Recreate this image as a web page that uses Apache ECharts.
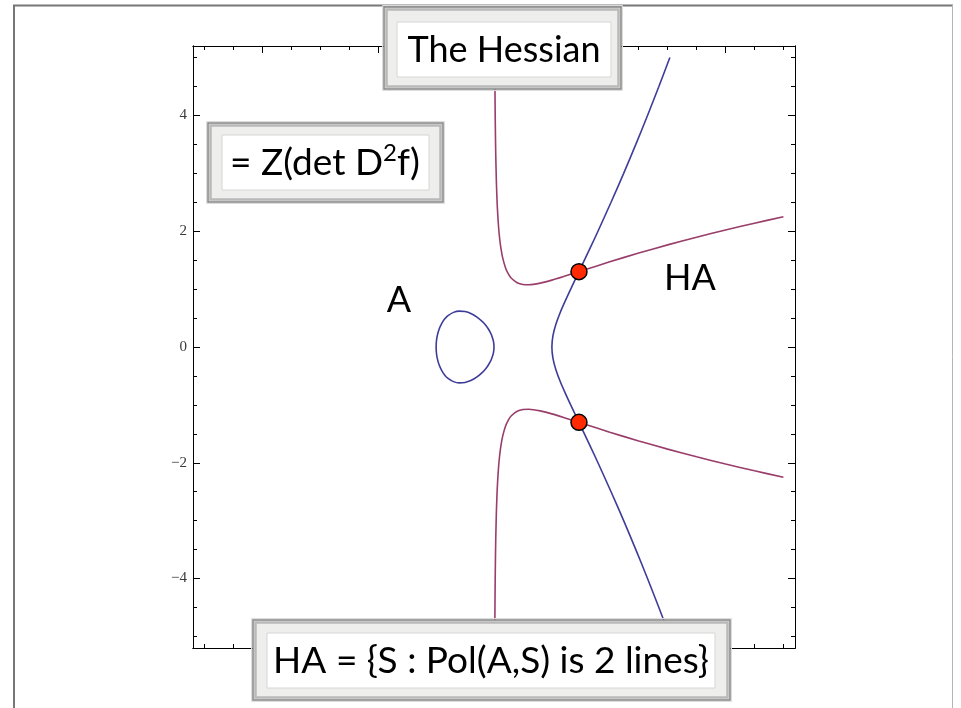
<!DOCTYPE html>
<html>
<head>
<meta charset="utf-8">
<script src="https://cdn.jsdelivr.net/npm/echarts@6/dist/echarts.min.js"></script>
<style>html,body{margin:0;padding:0;background:#fff}#c{width:961px;height:708px}</style>
</head>
<body>
<div id="c"></div>
<script>
// ---- data ----
const majorTicks = [-4, -2, 0, 2, 4];
const minorTicks = [-5, -4.5, -4, -3.5, -3, -2.5, -2, -1.5, -1, -0.5, 0, 0.5, 1, 1.5, 2, 2.5, 3, 3.5, 4, 4.5, 5];
const yTickLabels = [-4, -2, 0, 2, 4];

// curve A: closed oval
const curveAOval = [
  [-1, 0], [-0.995, 0.1], [-0.98, 0.197], [-0.95, 0.304], [-0.9, 0.414], [-0.85, 0.486], [-0.8, 0.537],
  [-0.7, 0.598], [-0.6, 0.620], [-0.5, 0.612], [-0.4, 0.580], [-0.3, 0.522], [-0.2, 0.438], [-0.15, 0.383],
  [-0.1, 0.315], [-0.06, 0.245], [-0.04, 0.2], [-0.01, 0.1], [0, 0],
  [-0.01, -0.1], [-0.04, -0.2], [-0.06, -0.245], [-0.1, -0.315], [-0.15, -0.383], [-0.2, -0.438],
  [-0.3, -0.522], [-0.4, -0.580], [-0.5, -0.612], [-0.6, -0.620], [-0.7, -0.598], [-0.8, -0.537],
  [-0.85, -0.486], [-0.9, -0.414], [-0.95, -0.304], [-0.98, -0.197], [-0.995, -0.1], [-1, 0]
];
// curve A: unbounded branch
const curveABranch = [
  [3.038, -5], [2.848, -4.5], [2.652, -4], [2.450, -3.5], [2.240, -3], [2.022, -2.5], [1.796, -2],
  [1.680, -1.75], [1.562, -1.5], [1.443, -1.25], [1.325, -1], [1.233, -0.8], [1.146, -0.6], [1.072, -0.4],
  [1.0195, -0.2], [1, 0], [1.0195, 0.2], [1.072, 0.4], [1.146, 0.6], [1.233, 0.8], [1.325, 1],
  [1.443, 1.25], [1.562, 1.5], [1.680, 1.75], [1.796, 2], [2.022, 2.5], [2.240, 3], [2.450, 3.5],
  [2.652, 4], [2.848, 4.5], [3.038, 5]
];
// Hessian curve HA: upper branch
const hessianUpper = [
  [0.0133, 5], [0.0167, 4.470], [0.02, 4.085], [0.025, 3.655], [0.03, 3.338], [0.04, 2.894], [0.05, 2.592],
  [0.06, 2.370], [0.08, 2.061], [0.1, 1.853], [0.12, 1.702], [0.15, 1.540], [0.2, 1.366], [0.25, 1.258],
  [0.3, 1.188], [0.4, 1.111], [0.5, 1.080], [0.6, 1.075], [0.8, 1.103], [1, 1.155], [1.2, 1.216],
  [1.5, 1.312], [2, 1.472], [2.5, 1.623], [3, 1.764], [3.5, 1.896], [4, 2.021], [4.5, 2.139], [5, 2.251]
];
// Hessian curve HA: lower branch
const hessianLower = [
  [0.0133, -5], [0.0167, -4.470], [0.02, -4.085], [0.025, -3.655], [0.03, -3.338], [0.04, -2.894], [0.05, -2.592],
  [0.06, -2.370], [0.08, -2.061], [0.1, -1.853], [0.12, -1.702], [0.15, -1.540], [0.2, -1.366], [0.25, -1.258],
  [0.3, -1.188], [0.4, -1.111], [0.5, -1.080], [0.6, -1.075], [0.8, -1.103], [1, -1.155], [1.2, -1.216],
  [1.5, -1.312], [2, -1.472], [2.5, -1.623], [3, -1.764], [3.5, -1.896], [4, -2.021], [4.5, -2.139], [5, -2.251]
];
// intersection (flex) points
const flexPoints = [[1.468, 1.302], [1.468, -1.302]];

// ---- chart ----
const BLUE = '#3d3d99', PURPLE = '#993d6b';
const RANGE = [-5.2, 5.2];
const fmt = v => (v < 0 ? '\u2212' + Math.abs(v) : String(v));

function axis(kind, position, ticks, len, labels) {
  const a = {
    type: 'value', position: position, min: RANGE[0], max: RANGE[1],
    axisLine: { show: true, onZero: false, lineStyle: { color: '#000', width: 1 } },
    axisTick: { show: true, inside: true, length: len, customValues: ticks, lineStyle: { color: '#000', width: 1 } },
    axisLabel: { show: false },
    splitLine: { show: false }
  };
  if (labels) {
    a.axisLabel = { show: true, customValues: labels, formatter: fmt, margin: 6,
      fontFamily: 'Liberation Serif, serif', fontSize: 15, color: '#3a3a3a' };
  }
  return a;
}

const lineStyleFor = c => ({ color: c, width: 1.6 });
function curve(data, color) {
  return { type: 'line', data: data, smooth: 0.3, showSymbol: false, symbol: 'none',
    lineStyle: lineStyleFor(color), itemStyle: { color: color }, z: 3, silent: true,
    clip: false };
}

function box(ox, oy, ow, oh, ix, iy, iw, ih, text) {
  const z = 100;
  return [
    { type: 'rect', z: z, shape: { x: ox - 1.5, y: oy - 1.5, width: ow + 3, height: oh + 3 },
      style: { fill: 'none', stroke: '#dcdcdc', lineWidth: 1 } },
    { type: 'rect', z: z + 1, shape: { x: ox, y: oy, width: ow, height: oh },
      style: { fill: '#eeeeec', stroke: '#858585', lineWidth: 1.5 } },
    { type: 'rect', z: z + 2, shape: { x: ox + 2.5, y: oy + 2.5, width: ow - 5, height: oh - 5 },
      style: { fill: 'none', stroke: '#b9b9b9', lineWidth: 2.5 } },
    { type: 'rect', z: z + 3, shape: { x: ix, y: iy, width: iw, height: ih },
      style: { fill: '#ffffff', stroke: '#d6d6d6', lineWidth: 1 } },
    Object.assign({ type: 'text', z: z + 4 }, text)
  ];
}

const FONT = 'Lato, "Open Sans", sans-serif';
const graphics = [].concat(
  // outer page border
  [{ type: 'line', z: 50, shape: { x1: 14, y1: 5, x2: 14, y2: 708 }, style: { stroke: '#777', lineWidth: 2 } },
   { type: 'line', z: 50, shape: { x1: 13, y1: 5.5, x2: 953, y2: 5.5 }, style: { stroke: '#777', lineWidth: 2 } },
   { type: 'line', z: 50, shape: { x1: 952.5, y1: 5, x2: 952.5, y2: 708 }, style: { stroke: '#b5b5b5', lineWidth: 1 } }],
  box(384, 7, 237, 82, 397, 22, 214, 55,
    { style: { x: 504, y: 50, text: 'The Hessian', font: '400 36px ' + FONT, fill: '#000',
      align: 'center', verticalAlign: 'middle' } }),
  box(208, 123, 235, 79, 222, 135, 207, 55,
    { style: { x: 325, y: 163, text: '{a|= Z(det D}{s|2}{a|f)}', fill: '#000', align: 'center', verticalAlign: 'middle',
      rich: { a: { font: '400 37px ' + FONT, fill: '#000' }, s: { font: '400 24px ' + FONT, fill: '#000', verticalAlign: 'top', padding: [0, 0, 20, 0] } } } }),
  box(253, 620, 477, 80, 267, 633, 448, 55,
    { style: { x: 491, y: 661, text: 'HA = {S : Pol(A,S) is 2 lines}', font: '400 37px ' + FONT, fill: '#000',
      align: 'center', verticalAlign: 'middle' } }),
  [{ type: 'text', z: 60, style: { x: 399, y: 300, text: 'A', font: '400 36px ' + FONT, fill: '#000', align: 'center', verticalAlign: 'middle' } },
   { type: 'text', z: 60, style: { x: 690, y: 278, text: 'HA', font: '400 36px ' + FONT, fill: '#000', align: 'center', verticalAlign: 'middle' } }]
);

const chart = echarts.init(document.getElementById('c'), null, { renderer: 'canvas' });
chart.setOption({
  animation: false,
  backgroundColor: '#fff',
  grid: { left: 193, top: 46, width: 602, height: 602, containLabel: false },
  xAxis: [
    axis('x', 'bottom', majorTicks, 7),
    axis('x', 'bottom', minorTicks, 4),
    axis('x', 'top', majorTicks, 7),
    axis('x', 'top', minorTicks, 4)
  ],
  yAxis: [
    axis('y', 'left', majorTicks, 7, yTickLabels),
    axis('y', 'left', minorTicks, 4),
    axis('y', 'right', majorTicks, 7),
    axis('y', 'right', minorTicks, 4)
  ],
  series: [
    curve(curveAOval, BLUE),
    curve(curveABranch, BLUE),
    curve(hessianUpper, PURPLE),
    curve(hessianLower, PURPLE),
    { type: 'scatter', data: flexPoints, symbol: 'circle', symbolSize: 16, z: 5, silent: true,
      itemStyle: { color: '#ff2a00', borderColor: '#000', borderWidth: 1.5, opacity: 1 } }
  ],
  graphic: graphics
});
</script>
</body>
</html>
